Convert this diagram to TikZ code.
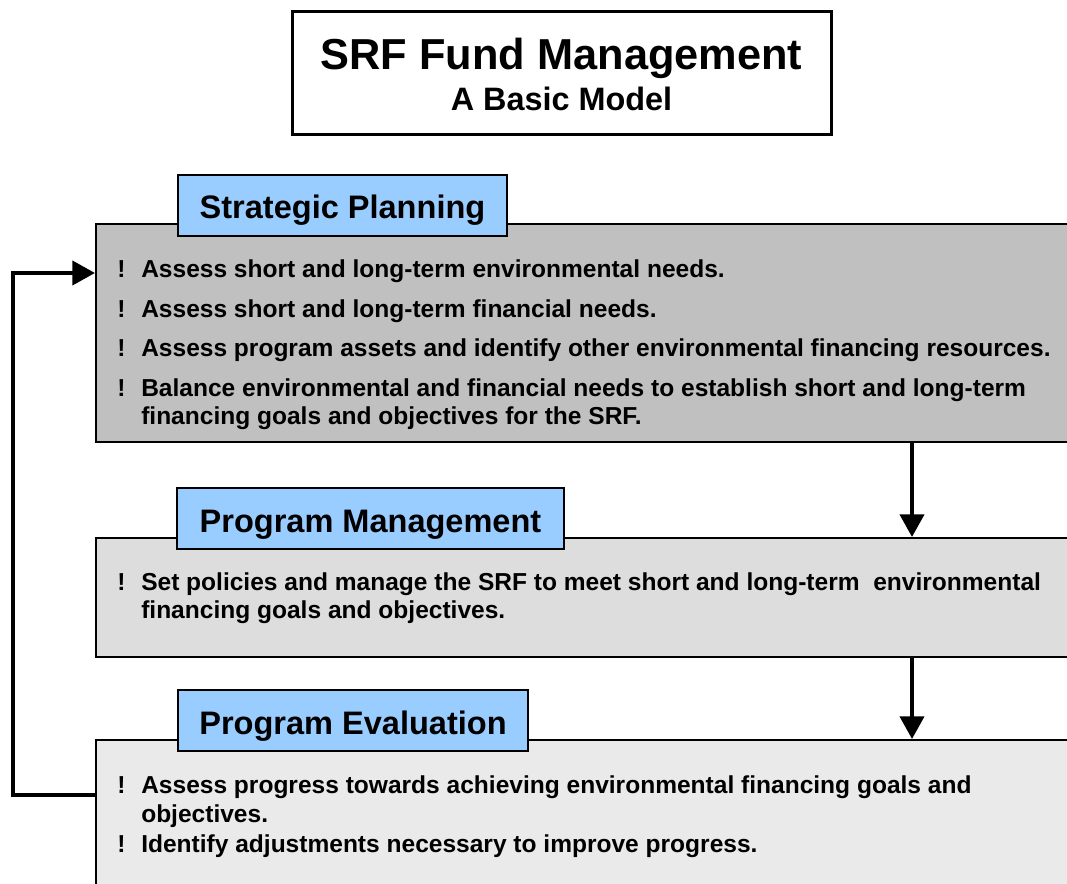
\documentclass[tikz,border=0pt]{standalone}
\usepackage{fontspec}
\setmainfont{Liberation Sans}
\usetikzlibrary{arrows.meta}
\definecolor{headblue}{HTML}{99CCFF}
\definecolor{spgray}{HTML}{C0C0C0}
\definecolor{pmgray}{HTML}{DDDDDD}
\definecolor{pegray}{HTML}{EAEAEA}
\begin{document}
\begin{tikzpicture}[x=0.75pt,y=-0.75pt,
  mainbox/.style={draw=black, line width=1.5pt, anchor=north west, inner sep=0pt, minimum width=750pt},
  headbox/.style={draw=black, fill=headblue, line width=1.5pt, anchor=north west, inner sep=0pt,
     minimum height=46pt, text height=20pt, text depth=0pt, font=\fontsize{24.4}{28}\selectfont\bfseries},
  bullet/.style={anchor=base west, inner sep=0pt, font=\fontsize{18.4}{21}\selectfont\bfseries},
  btext/.style={anchor=base west, inner sep=0pt, font=\fontsize{18.4}{21.4}\selectfont\bfseries},
  flow/.style={line width=3pt, -{Triangle[length=17pt,width=18pt]}},
  back/.style={line width=3pt, line join=miter, -{Triangle[length=17pt,width=18pt]}}]
\useasboundingbox (0,0) rectangle (1067,884);
\clip (0,0) rectangle (1067,884);
% title
\node[draw=black, line width=2.5pt, anchor=north west, inner sep=0pt, minimum width=404pt, minimum height=92pt] (title) at (291,10) {};
\node[anchor=base, inner sep=0pt, font=\fontsize{32.5}{36}\selectfont\bfseries] (t1) at (561.5,70) {SRF Fund Management};
\node[anchor=base, inner sep=0pt, font=\fontsize{24.3}{28}\selectfont\bfseries] (t2) at (561.5,111) {A Basic Model};
% main boxes
\node[mainbox, fill=spgray, minimum height=163.5pt] (sp) at (95,223) {};
\node[mainbox, fill=pmgray, minimum height=89.25pt] (pm) at (95,537) {};
\node[mainbox, fill=pegray, minimum height=120pt] (pe) at (95,739) {};
% headers
\node[headbox, minimum width=246.75pt] (sph) at (177,174) {Strategic Planning};
\node[headbox, minimum width=290.25pt] (pmh) at (176,487) {Program Management};
\node[headbox, minimum width=262.5pt] (peh) at (177,689) {Program Evaluation};
% strategic planning bullets
\node[bullet] (b1) at (117,277) {!};
\node[btext] (s1) at (141,277) {Assess short and long-term environmental needs.};
\node[bullet] (b2) at (117,317) {!};
\node[btext] (s2) at (141,317) {Assess short and long-term financial needs.};
\node[bullet] (b3) at (117,356) {!};
\node[btext] (s3) at (141,356) {Assess program assets and identify other environmental financing resources.};
\node[bullet] (b4) at (117,396) {!};
\node[btext] (s4) at (141,396) {Balance environmental and financial needs to establish short and long-term};
\node[btext] (s4b) at (141,424) {financing goals and objectives for the SRF.};
% program management bullets
\node[bullet] (b5) at (117,590) {!};
\node[btext] (m1) at (141,590) {Set policies and manage the SRF to meet short and long-term\ \ environmental};
\node[btext] (m1b) at (141,618) {financing goals and objectives.};
% program evaluation bullets
\node[bullet] (b6) at (117,793) {!};
\node[btext] (e1) at (141,793) {Assess progress towards achieving environmental financing goals and};
\node[btext] (e1b) at (141,822) {objectives.};
\node[bullet] (b7) at (117,852) {!};
\node[btext] (e2) at (141,852) {Identify adjustments necessary to improve progress.};
% connectors
\coordinate (ax) at (912,0);
\draw[flow] (sp.south -| ax) -- (pm.north -| ax);
\draw[flow] (pm.south -| ax) -- (pe.north -| ax);
\coordinate (fbout) at (95,795);
\coordinate (fbin) at (95,273);
\coordinate (fbcorner) at (13,795);
\draw[back] (fbout) -- (fbcorner) |- (fbin);
\end{tikzpicture}
\end{document}
